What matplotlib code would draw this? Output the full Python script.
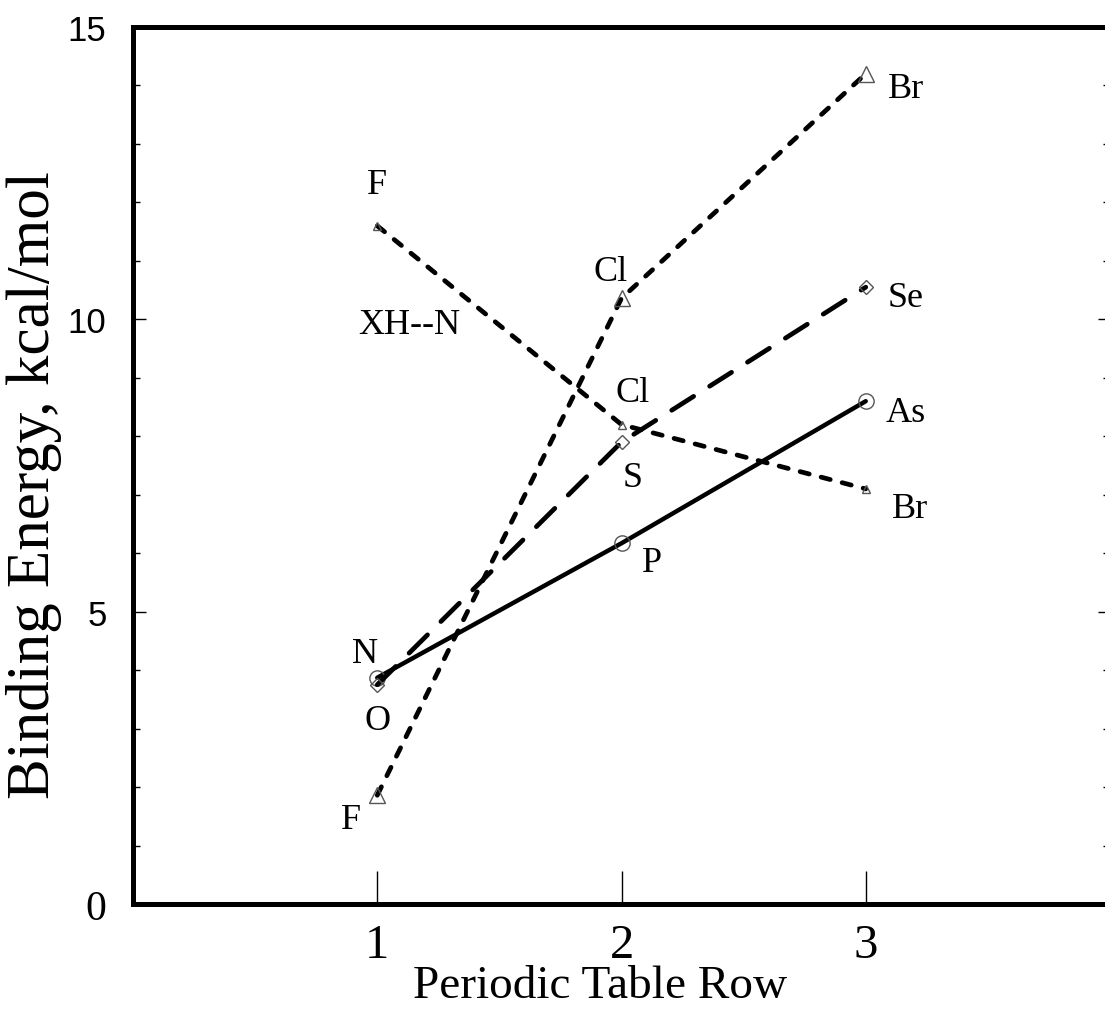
import matplotlib
matplotlib.use("Agg")
import matplotlib.pyplot as plt
from matplotlib.ticker import MultipleLocator

# Periodic table row (x) for every series
rows = [1, 2, 3]

# Binding energies, kcal/mol
pn_energy = [3.87, 6.17, 8.6]        # N, P, As   (solid, circles)
os_energy = [3.75, 7.9, 10.55]       # O, S, Se   (long dash, diamonds)
hx_energy = [1.86, 10.36, 14.2]      # F, Cl, Br  (short dash, triangles)
xhn_energy = [11.6, 8.2, 7.1]        # XH--N: F, Cl, Br (short dash, small triangles)

pn_names = ["N", "P", "As"]
os_names = ["O", "S", "Se"]
hx_names = ["F", "Cl", "Br"]
xhn_names = ["F", "Cl", "Br"]

# label offsets from each point, in pixels
pn_offsets = [(-12, 24), (31, -19), (40, -11)]
os_offsets = [(0, -36), (11, -35), (40, -10)]
hx_offsets = [(-26, -24), (-11, 27), (40, -15)]
xhn_offsets = [(0, 41), (11, 32), (44, -20)]

serif = "Liberation Serif"
sans = "Liberation Sans"

fig = plt.figure(figsize=(11.05, 10.12), dpi=100)
ax = fig.add_axes([133 / 1105, 1 - 905 / 1012, 977 / 1105, 877 / 1012])

mk = dict(fillstyle="none", markeredgecolor="#555555", markeredgewidth=1.0)
ax.plot(rows, pn_energy, color="black", lw=3.2, marker="o", markersize=11,
        solid_capstyle="round", **mk)
ax.plot(rows, os_energy, color="black", lw=3.4, marker="D", markersize=7,
        dashes=(5.5, 4.0), dash_capstyle="round", **mk)
ax.plot(rows, hx_energy, color="black", lw=3.4, marker="^", markersize=11,
        dashes=(2.0, 2.6), dash_capstyle="round", **mk)
ax.plot(rows, xhn_energy, color="black", lw=3.4, marker="^", markersize=6,
        dashes=(2.0, 2.6), dash_capstyle="round", **mk)

for names, vals, offs in [(pn_names, pn_energy, pn_offsets),
                          (os_names, os_energy, os_offsets),
                          (hx_names, hx_energy, hx_offsets),
                          (xhn_names, xhn_energy, xhn_offsets)]:
    for name, x, y, off in zip(names, rows, vals, offs):
        ax.annotate(name, (x, y), xytext=off, textcoords="offset pixels",
                    ha="center", va="center", fontsize=26, family=serif)

ax.text(1.13, 9.92, "XH--N", ha="center", va="center", fontsize=26, family=serif)

ax.set_xlim(0, 4)
ax.set_ylim(0, 15)

ax.set_xticks(rows)
ax.set_xticklabels([str(r) for r in rows], family=serif, fontsize=35)
ax.set_yticks([0, 5, 10, 15])
ax.set_yticklabels(["0", "5", "10", "15"], family=sans, fontsize=25)
ax.get_yticklabels()[0].set_family(serif)
ax.get_yticklabels()[0].set_fontsize(30)
ax.yaxis.set_minor_locator(MultipleLocator(1))

ax.tick_params(axis="x", which="major", direction="in", length=24, width=1,
               pad=14, top=False)
ax.tick_params(axis="y", which="major", direction="in", length=9, width=1,
               pad=19, right=True)
ax.tick_params(axis="y", which="minor", direction="in", length=5, width=1,
               right=True)

for side in ["left", "bottom", "top", "right"]:
    ax.spines[side].set_linewidth(3.6)

ax.set_xlabel("Periodic Table Row", family=serif, fontsize=34, va="baseline")
ax.set_ylabel("Binding Energy, kcal/mol", family=serif, fontsize=44)
ax.xaxis.set_label_coords((600 - 133) / 977, (905 - 998) / 877)
ax.yaxis.set_label_coords((62 - 133) / 977, (905 - 485) / 877)

fig.savefig("out.png", dpi=100)
